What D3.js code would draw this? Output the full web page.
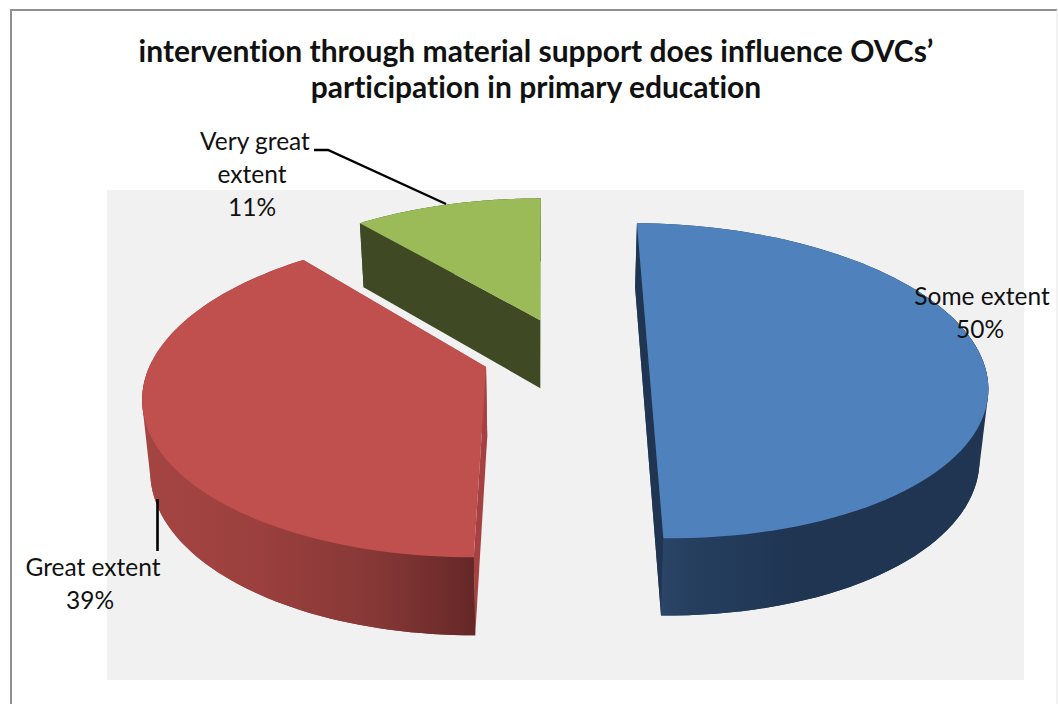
<!DOCTYPE html>
<html>
<head>
<meta charset="utf-8">
<script src="https://cdn.jsdelivr.net/npm/d3@7"></script>
<style>
	html, body { margin: 0; padding: 0; background: #fff; }
	svg { display: block; }
	text { font-family: Lato, "Open Sans", sans-serif; fill: #111; font-variant-ligatures: none; }
</style>
</head>
<body>
<svg class="chart" width="1058" height="704"></svg>
<script>
const categories = ["Some extent", "Great extent", "Very great extent"]
const percents = [50, 39, 11]
const titleLines = [
	"intervention through material support does influence OVCs\u2019",
	"participation in primary education"
]

const svg = d3.select("svg.chart")

// Chart frame and grey plot area
svg.append("path")
	.attr("d", "M11,704V10H1057")
	.attr("fill", "none")
	.attr("stroke", "#8f8f8f")
	.attr("stroke-width", 2)
svg.append("line")
	.attr("x1", 1057).attr("x2", 1057).attr("y1", 10).attr("y2", 704)
	.attr("stroke", "#e6e6e6")
svg.append("rect")
	.attr("x", 107).attr("y", 190)
	.attr("width", 917).attr("height", 490)
	.attr("fill", "#f1f1f1")

// Perspective of the tilted pie: ground units to pixels
const xScale = d3.scaleLinear().domain([0, 1]).range([545, 877])
const yScale = d3.scaleLinear().domain([0, 1]).range([354, 507])
const tilt = 0.17

const project = (gx, gy) => {
	const s = 1 / (1 - tilt * gy)
	return [xScale(gx * s), yScale(gy * s)]
}
// The bottom rim sits below the top one and a bit closer to the middle
const lower = ([x, y]) => [xScale(xScale.invert(x) * 0.98), y + 54.6 + 0.042 * y]

const arcs = d3.pie().sort(null)(percents)
// how far each slice is pulled out (x, y) and turned, in ground units
const explode = [[0.31, 0, 0.014], [-0.175, 0.084, 0], [-0.015, -0.23, 0]]
const looks = [
	{ top: "#4f81bd", cut: "#1f3552", wall: ["#2e4b70", "#263f5f", "#1f3552", "#1f3552"] },
	{ top: "#c0504d", cut: "#a54241", wall: ["#a54543", "#9b403e", "#863836", "#652827"] },
	{ top: "#9bbb59", cut: "#3f4a24", wall: ["#3f4a24", "#3f4a24", "#3f4a24", "#3f4a24"] }
]

const rimPoints = (a, ex) => d3.range(0, 91).map(i => {
	const t = a.startAngle + (a.endAngle - a.startAngle) * i / 90 + ex[2]
	return project(Math.sin(t) + ex[0], -Math.cos(t) + ex[1])
})
const line = d3.line()
const defs = svg.append("defs")

// Green sits furthest back, then blue, then red
const order = [2, 0, 1]
const groups = svg.selectAll("g.slice")
	.data(order)
	.enter()
	.append("g")
	.attr("class", "slice")

groups.each(function (k) {
	const g = d3.select(this)
	const rim = rimPoints(arcs[k], explode[k])
	const apex = project(explode[k][0], explode[k][1])
	const look = looks[k]

	const xs = rim.map(p => p[0])
	const grad = defs.append("linearGradient")
		.attr("id", "wall" + k)
		.attr("gradientUnits", "userSpaceOnUse")
		.attr("x1", d3.min(xs))
		.attr("x2", d3.max(xs))
		.attr("y1", 0).attr("y2", 0)
	const stops = k === 0 ? [0, 0.15, 0.45, 1] : [0, 0.35, 0.7, 1]
	look.wall.forEach((c, i) => {
		grad.append("stop").attr("offset", stops[i]).attr("stop-color", c)
	})

	// outer wall, hull so the sides run straight from top rim to bottom rim
	g.append("path")
		.attr("d", line(d3.polygonHull(rim.concat(rim.map(lower)))) + "Z")
		.attr("fill", "url(#wall" + k + ")")

	// both cut faces
	const ends = [rim[0], rim[rim.length - 1]]
	const faceOrder = k === 2 ? [1, 0] : [0, 1]
	faceOrder.forEach(e => {
		const p = ends[e]
		g.append("path")
			.attr("d", line([apex, p, lower(p), lower(apex)]) + "Z")
			.attr("fill", k === 2 && e === 1 ? "#84a24c" : look.cut)
	})

	// outer wall again when it has to cover the cut face at the front
	if (k !== 2) {
		const front = rim.filter((p, i) => k === 0 ? i > 30 : i < 60)
		g.append("path")
			.attr("d", line(front.concat(front.map(lower).reverse())) + "Z")
			.attr("fill", "url(#wall" + k + ")")
	}

	// top surface
	g.append("path")
		.attr("d", line([apex].concat(rim)) + "Z")
		.attr("fill", look.top)
})

// Leader lines
svg.append("path")
	.attr("d", "M314,150H328L446,204")
	.attr("fill", "none")
	.attr("stroke", "#000")
	.attr("stroke-width", 2.4)
svg.append("line")
	.attr("x1", 157.5).attr("x2", 157.5).attr("y1", 499).attr("y2", 551)
	.attr("stroke", "#000")
	.attr("stroke-width", 2.6)

// Title
svg.selectAll("text.title")
	.data(titleLines)
	.enter()
	.append("text")
	.attr("class", "title")
	.attr("x", 536)
	.attr("y", (d, i) => 62 + i * 36)
	.attr("text-anchor", "middle")
	.attr("font-size", 30)
	.attr("font-weight", 700)
	.text(d => d)

// Data labels, split in lines like the reference
const labelLines = [
	[categories[0], percents[0] + "%"],
	[categories[1], percents[1] + "%"],
	["Very great", "extent", percents[2] + "%"]
]
const labelPlaces = [
	{ x: [982, 980], y: 305 },
	{ x: [93, 90], y: 576 },
	{ x: [255, 252, 252], y: 150 }
]
labelLines.forEach((lines, k) => {
	svg.selectAll("text.label" + k)
		.data(lines)
		.enter()
		.append("text")
		.attr("class", "label" + k)
		.attr("x", (d, i) => labelPlaces[k].x[i])
		.attr("y", (d, i) => labelPlaces[k].y + i * 33)
		.attr("text-anchor", "middle")
		.attr("font-size", 24.5)
		.text(d => d)
})
</script>
</body>
</html>
